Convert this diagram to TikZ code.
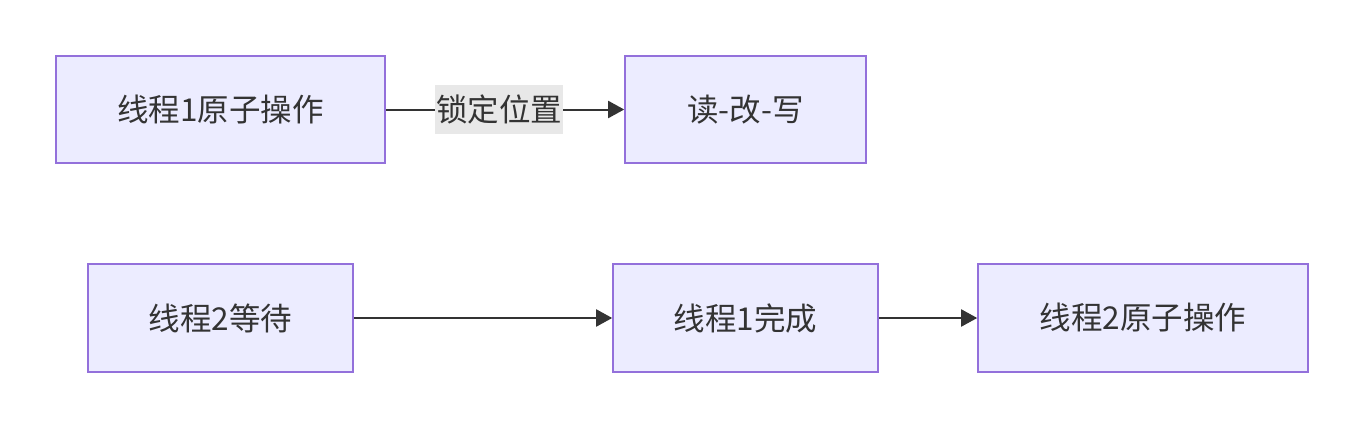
\documentclass[tikz,border=0pt]{standalone}
\usepackage{fontspec}
\setmainfont{Noto Sans CJK SC}
\usetikzlibrary{arrows.meta}
\definecolor{nodefill}{HTML}{ECECFF}
\definecolor{nodestroke}{HTML}{9370DB}
\definecolor{linec}{HTML}{333333}
\definecolor{labelbg}{HTML}{E8E8E8}
\begin{document}
\begin{tikzpicture}[x=1pt,y=-1pt,
  box/.style={draw=nodestroke,fill=nodefill,line width=1.6pt,text=linec,font=\fontsize{31.5}{36}\selectfont,inner sep=0pt},
  conn/.style={draw=linec,line width=2pt,-{Triangle[length=16pt,width=17pt]}},
  lbl/.style={fill=labelbg,text=linec,font=\fontsize{31.5}{36}\selectfont,inner sep=0pt,minimum width=128pt,minimum height=48pt}]
\useasboundingbox (0,0) rectangle (1363,428);
\node[box,minimum width=329pt,minimum height=107pt] (a) at (220.5,109.5) {线程1原子操作};
\node[box,minimum width=241pt,minimum height=107pt] (b) at (745.5,109.5) {读-改-写};
\node[box,minimum width=265pt,minimum height=108pt] (c) at (220.5,318) {线程2等待};
\node[box,minimum width=265pt,minimum height=108pt] (d) at (745.5,318) {线程1完成};
\node[box,minimum width=330pt,minimum height=108pt] (e) at (1143,318) {线程2原子操作};
\draw[conn] (a) -- node[lbl,xshift=-6pt] (l) {锁定位置} (b);
\draw[conn] (c) -- (d);
\draw[conn] (d) -- (e);
\end{tikzpicture}
\end{document}
